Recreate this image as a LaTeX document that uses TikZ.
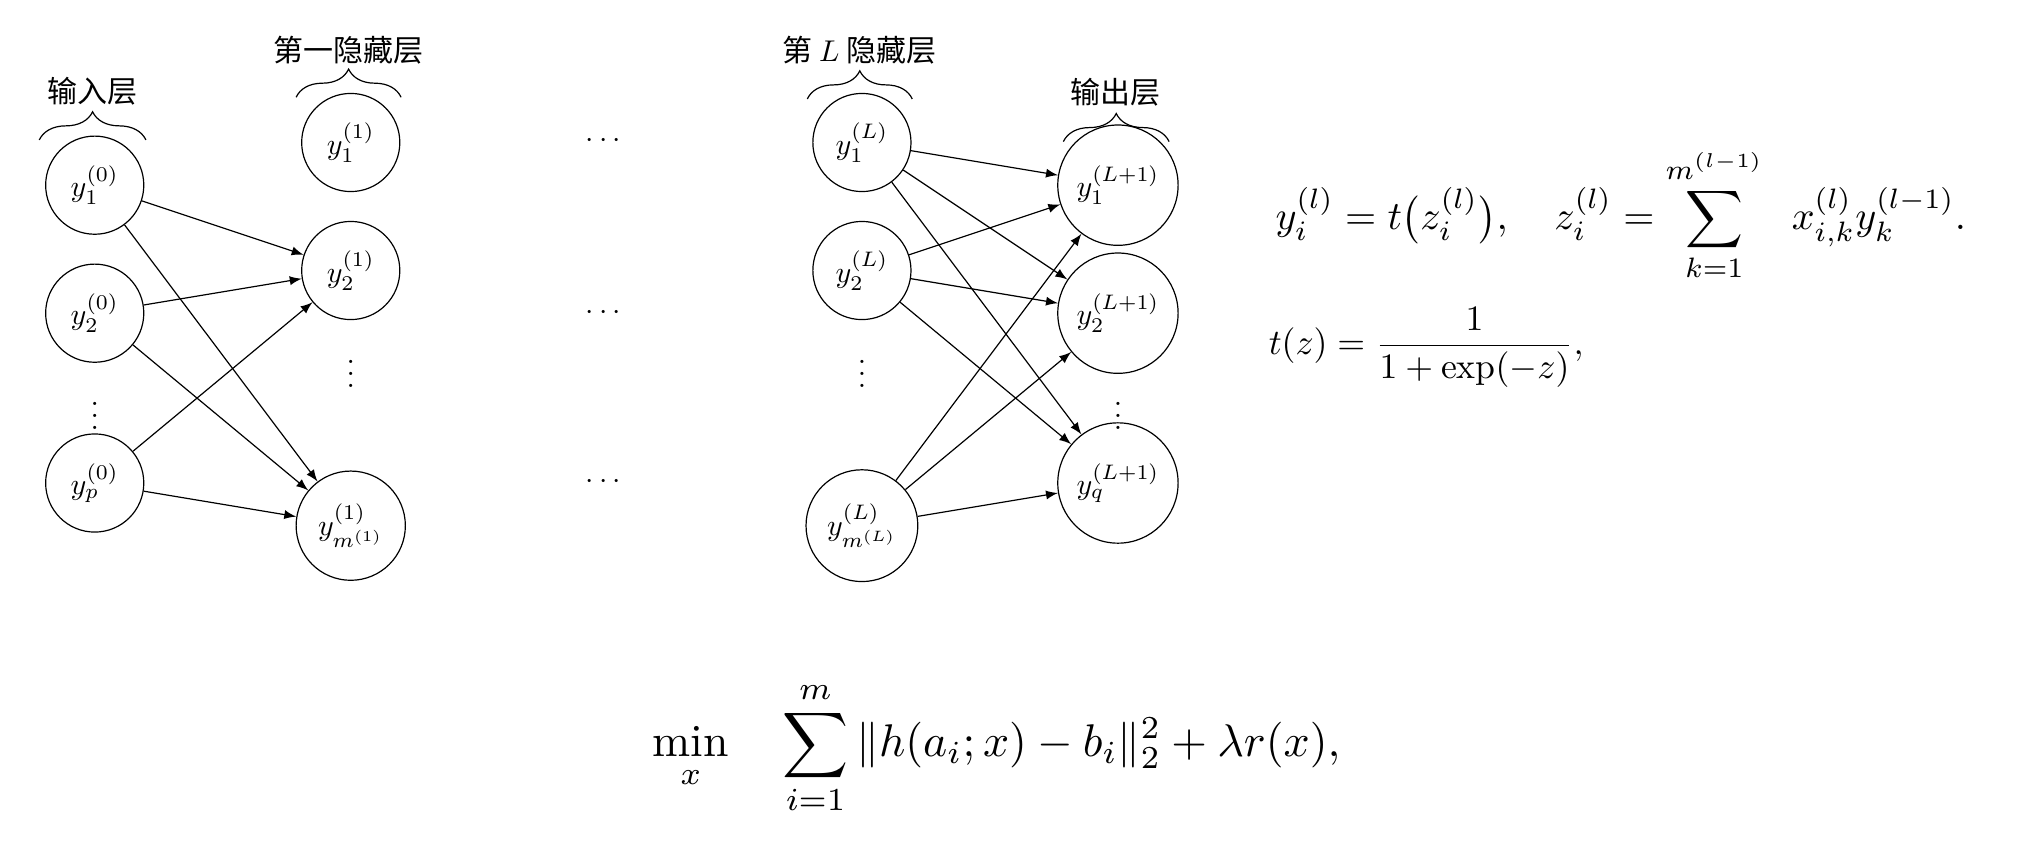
\documentclass[tikz,border=0pt]{standalone}
\usepackage{fontspec}
\usepackage{amsmath}
\usepackage{graphicx}
\newfontfamily\cjk{Noto Sans CJK SC}
\usetikzlibrary{decorations.pathreplacing}
\begin{document}
\begin{tikzpicture}[
  neuron/.style={circle,draw,thin,minimum size=1.15cm,inner sep=0pt},
  outneuron/.style={neuron,minimum size=1.41cm},
  conn/.style={-latex,thin},
  layerbrace/.style={decorate,decoration={brace,amplitude=0.33cm},thin},
  layerlabel/.style={font=\cjk,inner sep=0pt},
  dotsnode/.style={inner sep=0pt},
  eqn/.style={inner sep=0pt,anchor=west}
]
\useasboundingbox (0,0) rectangle (23.94,-10.03);

% input layer
\node[neuron] (i1) at (1.11,-2.17) {$y_1^{(0)}$};
\node[neuron] (i2) at (1.11,-3.67) {$y_2^{(0)}$};
\node[dotsnode] (iv) at (1.11,-4.77) {$\vdots$};
\node[neuron] (ip) at (1.11,-5.66) {$y_p^{(0)}$};

% first hidden layer
\node[neuron] (h1) at (4.11,-1.67) {$y_1^{(1)}$};
\node[neuron] (h2) at (4.11,-3.17) {$y_2^{(1)}$};
\node[dotsnode] (hv) at (4.11,-4.28) {$\vdots$};
\node[neuron,minimum size=1.28cm] (hm) at (4.11,-6.16) {$y_{m^{(1)}}^{(1)}$};

% middle dots
\node[dotsnode] (d1) at (7.10,-1.65) {$\cdots$};
\node[dotsnode] (d2) at (7.10,-3.67) {$\cdots$};
\node[dotsnode] (d3) at (7.10,-5.65) {$\cdots$};

% L-th hidden layer
\node[neuron] (l1) at (10.10,-1.67) {$y_1^{(L)}$};
\node[neuron] (l2) at (10.10,-3.17) {$y_2^{(L)}$};
\node[dotsnode] (lv) at (10.10,-4.28) {$\vdots$};
\node[neuron,minimum size=1.31cm] (lm) at (10.10,-6.16) {$y_{m^{(L)}}^{(L)}$};

% output layer
\node[outneuron] (o1) at (13.10,-2.17) {$y_1^{(L+1)}$};
\node[outneuron] (o2) at (13.10,-3.67) {$y_2^{(L+1)}$};
\node[dotsnode] (ov) at (13.10,-4.77) {$\vdots$};
\node[outneuron] (oq) at (13.10,-5.66) {$y_q^{(L+1)}$};

% labels and braces
\node[layerlabel] (tin) at (1.08,-1.07) {输入层};
\draw[layerbrace] (0.46,-1.64) -- (1.71,-1.64);
\node[layerlabel] (th1) at (4.08,-0.59) {第一隐藏层};
\draw[layerbrace] (3.47,-1.14) -- (4.70,-1.14);
\node[layerlabel] (thL) at (10.07,-0.59) {第 $L$ 隐藏层};
\draw[layerbrace] (9.46,-1.16) -- (10.69,-1.16);
\node[layerlabel] (tout) at (13.07,-1.08) {输出层};
\draw[layerbrace] (12.46,-1.66) -- (13.70,-1.66);

% connections input -> hidden 1
\draw[conn] (i1) -- (h2);
\draw[conn] (i1) -- (hm);
\draw[conn] (i2) -- (h2);
\draw[conn] (i2) -- (hm);
\draw[conn] (ip) -- (h2);
\draw[conn] (ip) -- (hm);

% connections hidden L -> output
\foreach \s in {l1,l2,lm}
  \foreach \t in {o1,o2,oq}
    \draw[conn] (\s) -- (\t);

% equations
\node[eqn] (eq1) at (14.94,-2.52) {\resizebox{8.09cm}{!}{$\displaystyle y_i^{(l)} = t\bigl(z_i^{(l)}\bigr),\quad z_i^{(l)} = \sum_{k=1}^{m^{(l-1)}}\mkern10mu x_{i,k}^{(l)} y_k^{(l-1)}.$}};
\node[eqn] (eq2) at (14.86,-4.07) {\resizebox{3.69cm}{!}{$\displaystyle t(z) = \frac{1}{1+\exp(-z)},$}};
\node[eqn] (eq3) at (7.64,-8.77) {\resizebox{8.06cm}{!}{$\displaystyle \min_{x}\quad \sum_{i=1}^{m} \|h(a_i;x)-b_i\|_2^2+\lambda r(x),$}};
\end{tikzpicture}
\end{document}
